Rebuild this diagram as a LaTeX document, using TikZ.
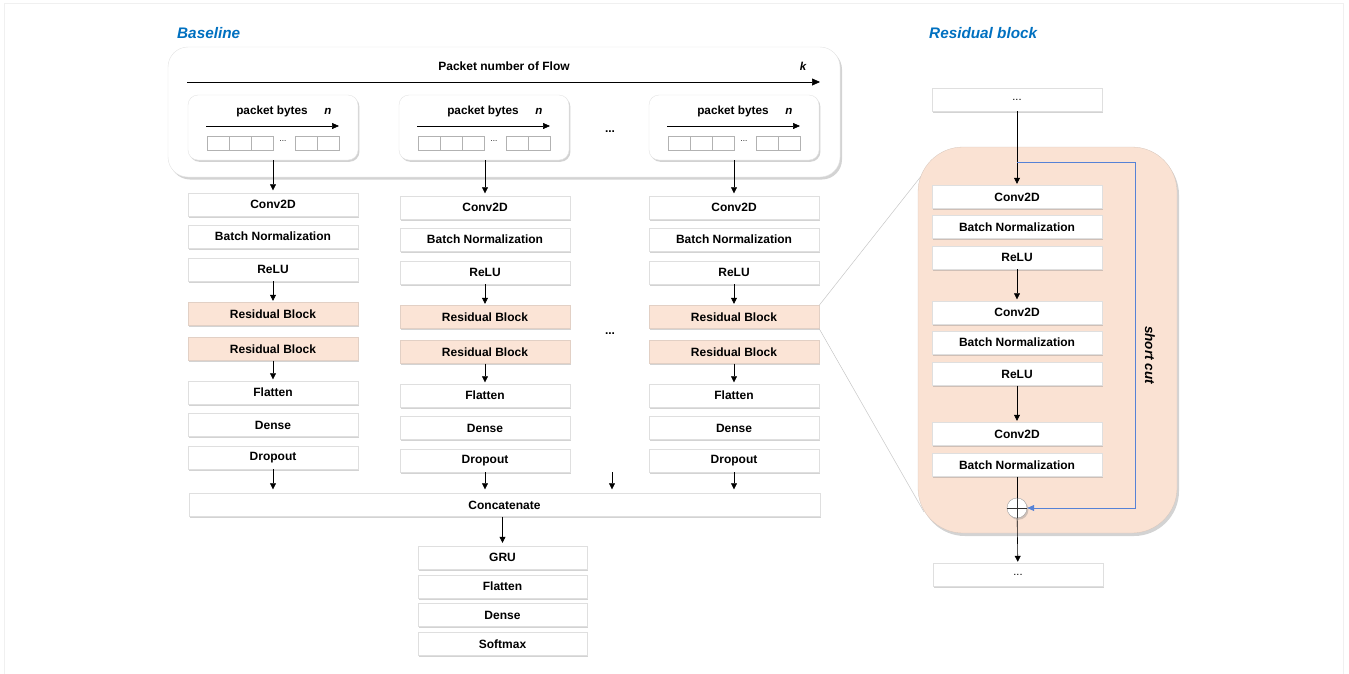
\documentclass[tikz,border=0pt]{standalone}
\usepackage{fontspec}
\setmainfont{Liberation Sans}
\usetikzlibrary{shadows,arrows.meta}
\definecolor{peach}{RGB}{251,228,214}
\definecolor{peachbg}{RGB}{250,226,211}
\definecolor{ttl}{RGB}{0,112,192}
\definecolor{scblue}{RGB}{86,130,214}
\tikzset{
  shad/.style={drop shadow={opacity=0.35, shadow xshift=1.4pt, shadow yshift=-1.8pt}},
  lay/.style={draw=gray!25, fill=white, minimum width=170pt, minimum height=23pt, inner sep=0pt,
    font=\fontsize{12}{13}\selectfont\bfseries, shad},
  res/.style={lay, fill=peach, draw=peach!80!gray},
  arr/.style={-{Triangle[length=6pt,width=6pt]}, black, line width=0.6pt, shorten >=1.5pt},
  pbox/.style={draw=gray!22, fill=white, rounded corners=10pt, minimum width=170pt, minimum height=65pt, inner sep=0pt, shad},
  cell/.style={draw=gray!60, line width=0.4pt, fill=white, minimum width=22pt, minimum height=14pt, inner sep=0pt},
  lbl/.style={font=\fontsize{11.8}{13}\selectfont\bfseries, inner sep=0pt},
  ilbl/.style={font=\fontsize{11.5}{13}\selectfont\bfseries\itshape, inner sep=0pt},
  ttlf/.style={font=\fontsize{15.3}{17}\selectfont\bfseries\itshape, text=ttl, inner sep=0pt, anchor=west},
  dots/.style={font=\fontsize{12}{13}\selectfont\bfseries, inner sep=0pt},
}
\begin{document}
\begin{tikzpicture}[x=1pt,y=-1pt]
\useasboundingbox (0,0) rectangle (1349,673);
\draw[gray!12, line width=1pt] (4,3) rectangle (1343,690);

% titles
\node[ttlf] (tbase) at (177,33) {Baseline};
\node[ttlf] (tres) at (929,33) {Residual block};

% flow box
\node[draw=gray!22, fill=white, rounded corners=20pt, minimum width=672pt, minimum height=130pt, inner sep=0pt,
  drop shadow={opacity=0.35, shadow xshift=2pt, shadow yshift=-2.5pt}] (flow) at (504,112) {};
\node[lbl, font=\fontsize{12}{13}\selectfont\bfseries] (pnf) at (504,66) {Packet number of Flow};
\node[ilbl] (kk) at (803,66) {k};
\coordinate (fa) at (187,82);
\coordinate (fb) at (820,82);
\draw[-{Triangle[length=8pt,width=7pt]}, line width=0.6pt] (fa) -- (fb);
\node[dots] (fd1) at (610,132) {...};

% packet boxes
\foreach \l/\i in {188/1,399/2,649/3}{
  \node[pbox] (p\i) at (\l+85,127.5) {};
  \node[lbl] (pt\i) at (\l+84,111) {packet bytes};
  \node[ilbl] (pn\i) at (\l+140,111) {n};
  \coordinate (pa\i) at (\l+18,126);
  \coordinate (pb\i) at (\l+151,126);
  \draw[-{Triangle[length=7pt,width=6pt]}, line width=0.6pt] (pa\i) -- (pb\i);
  \foreach \c in {19,41,63,107,129}{
    \node[cell] (c\i-\c) at (\l+\c+11,143) {};
  }
  \node[font=\fontsize{8}{9}\selectfont, inner sep=0pt] (pd\i) at (\l+95,141.5) {...};
}

% columns
\foreach \cx/\dy/\k in {273/0/1,485/3/2,734/3/3}{
  \node[lay] (conv\k) at (\cx,204.5+\dy) {Conv2D};
  \node[lay] (bn\k) at (\cx,236.5+\dy) {Batch Normalization};
  \node[lay] (relu\k) at (\cx,269.5+\dy) {ReLU};
  \node[res] (resa\k) at (\cx,314+\dy) {Residual Block};
  \node[res] (resb\k) at (\cx,349+\dy) {Residual Block};
  \node[lay] (flat\k) at (\cx,392.5+\dy) {Flatten};
  \node[lay] (dense\k) at (\cx,425+\dy) {Dense};
  \node[lay] (drop\k) at (\cx,457.5+\dy) {Dropout};
  \draw[arr] (relu\k) -- (resa\k);
  \draw[arr] (resb\k) -- (flat\k);
}
\node[dots] (fd2) at (610,334) {...};

\draw[arr, shorten >=2.5pt] (conv1.north |- p1.south) -- (conv1.north);
\draw[arr, shorten >=2.5pt] (conv2.north |- p2.south) -- (conv2.north);
\draw[arr, shorten >=2.5pt] (conv3.north |- p3.south) -- (conv3.north);

% concatenate
\node[lay, minimum width=631pt] (concat) at (504.5,505) {Concatenate};
\draw[arr, shorten >=4pt] (drop1) -- (drop1 |- concat.north);
\draw[arr, shorten >=4pt] (drop2) -- (drop2 |- concat.north);
\draw[arr, shorten >=4pt] (drop3) -- (drop3 |- concat.north);
\coordinate (xa) at (612,472);
\draw[arr, shorten >=4pt] (xa) -- (xa |- concat.north);

\node[lay, minimum width=169pt] (gru) at (502.5,557.5) {GRU};
\node[lay, minimum width=169pt] (flat) at (502.5,586.5) {Flatten};
\node[lay, minimum width=169pt] (dense) at (502.5,615) {Dense};
\node[lay, minimum width=169pt] (soft) at (502.5,644) {Softmax};
\draw[arr, shorten >=3pt] (concat.south -| gru.north) -- (gru.north);

% zoom lines
\coordinate (z1) at (922,175);
\coordinate (z2) at (924,512);
\draw[gray!45, line width=0.5pt] (resa3.north east) -- (z1);
\draw[gray!45, line width=0.5pt] (resa3.south east) -- (z2);

% residual block detail
\node[fill=peachbg, draw=peach!70!gray, line width=0.3pt, rounded corners=45pt, minimum width=259pt, minimum height=386pt, inner sep=0pt,
  drop shadow={opacity=0.35, shadow xshift=2pt, shadow yshift=-3pt}] (rblk) at (1047.5,340) {};
\node[lay, font=\fontsize{11}{12}\selectfont] (rtop) at (1017,99.5) {...};
\node[lay] (rc1) at (1017,197) {Conv2D};
\node[lay] (rb1) at (1017,227) {Batch Normalization};
\node[lay] (rr1) at (1017,257.5) {ReLU};
\node[lay] (rc2) at (1017,312.5) {Conv2D};
\node[lay] (rb2) at (1017,342.5) {Batch Normalization};
\node[lay] (rr2) at (1017,374) {ReLU};
\node[lay] (rc3) at (1017,434) {Conv2D};
\node[lay] (rb3) at (1017,465) {Batch Normalization};
\node[circle, draw=gray!75, fill=white, minimum size=20pt, inner sep=0pt, shad] (plus) at (1017,508) {};
\draw[black!80, line width=0.6pt] (plus.north) -- (plus.south) (plus.west) -- (plus.east);
\node[lay, font=\fontsize{11}{12}\selectfont] (rbot) at (1018,575) {...};

\draw[arr] (rtop) -- (rc1);
\draw[arr] (rr1) -- (rc2);
\draw[arr] (rr2) -- (rc3);
\draw[black, line width=0.6pt] (rb3) -- (plus.north);
\draw[arr] (plus) -- (rbot);
\coordinate (sc) at (1017,162);
\draw[scblue, line width=0.7pt, -{Triangle[length=7pt,width=6pt]}] (sc) -- ++(118,0) |- (plus.east);
\node[font=\fontsize{13.5}{15}\selectfont\bfseries\itshape, rotate=-90, inner sep=0pt] (sct) at (1150,355) {short cut};
\end{tikzpicture}
\end{document}
